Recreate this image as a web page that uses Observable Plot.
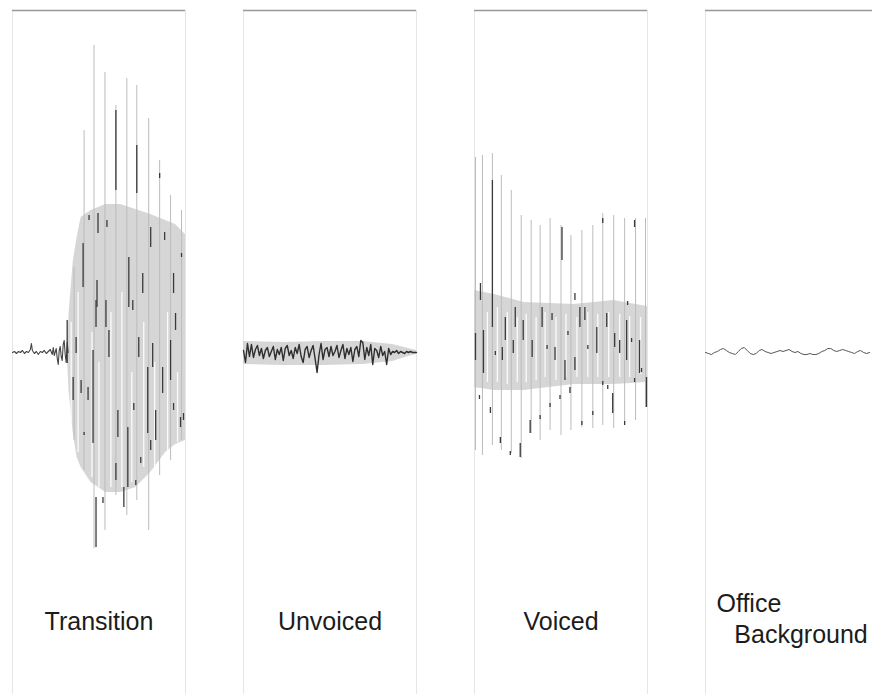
<!DOCTYPE html>
<html>
<head>
<meta charset="utf-8">
<script src="https://cdn.jsdelivr.net/npm/d3@7"></script>
<script src="https://cdn.jsdelivr.net/npm/@observablehq/plot@0.6"></script>
<style>
  html, body { margin: 0; padding: 0; background: #fff; overflow: hidden; }
</style>
</head>
<body>
<div id="chart"></div>
<script>
// Four speech-signal excerpts, each drawn in its own panel.
// Time runs 0..174 within a panel; amplitude is symmetric about zero.
const panels = ["Transition", "Unvoiced", "Voiced", "Office"];

// ---- Transition ----------------------------------------------------------
// quiet lead-in before the burst: [t, amplitude]
const transitionLead = [
  [0,0],[2,1],[4,-1],[6,1],[8,0],[10,2],[12,-1],[14,1],[16,0],[18,3],[19,9],[20,2],
  [22,-1],[24,1],[26,-2],[28,1],[30,0],[32,2],[34,-1],[36,1],[38,3],[40,-2],[41,5],
  [42,-3],[44,4],[45,-6],[46,-12],[47,2],[48,6],[49,-4],[50,-8],[51,8],[52,12],
  [53,-2],[54,-10],[55,10],[56,0]
];
// dense body of the burst: [t, upper, lower]
const transitionBody = [
  [55,0,0],[57,40,-40],[61,90,-80],[65,115,-105],[69,135,-115],[79,142,-130],
  [94,148,-140],[109,148,-140],[124,143,-135],[139,138,-120],[154,132,-100],
  [164,128,-92],[174,118,-88]
];
// pitch-period peaks: [t, max, min]
const transitionPeaks = [
  [62,85,-88],[72,222,-118],[82,307,-196],[93,280,-178],[104,247,-143],[115,274,-163],
  [125,267,-148],[137,234,-178],[148,192,-123],[159,157,-108],[170,142,-88]
];
// quiet gaps between peaks: [t, from, to]
const transitionGaps = [
  [59,30,-70],[66,60,-100],[80,20,-125],[87,-10,-135],[99,40,-135],[110,60,-135],
  [120,-20,-130],[132,30,-115],[143,-10,-115],[156,40,-98],[166,-20,-90]
];
// strongest excursions of the trace: [t, from, to]
const transitionStrokes = [
  [104,242,162],[125,207,159],[148,179,174],[77,137,132],[86,139,119],[95,132,125],
  [71,109,65],[139,125,105],[153,120,112],[170,99,95],[117,95,45],[85,72,45],
  [162,79,59],[131,79,59],[55,32,-11],[64,15,-1],[61,-25,-48],[69,-28,-41],
  [76,-35,-48],[72,-80,-83],[81,2,-91],[84,52,25],[94,52,25],[97,22,-5],
  [106,-58,-85],[116,-75,-135],[112,-135,-155],[91,-145,-151],[122,-51,-58],
  [124,-128,-133],[121,52,42],[127,15,-5],[136,-15,-81],[141,9,-15],[144,-58,-88],
  [151,-15,-41],[159,12,-28],[164,39,22],[162,-51,-58],[169,-65,-75],[172,-61,-68],
  [84,-145,-195],[104,-111,-128],[129,-105,-111],[139,-88,-98]
];

// ---- Unvoiced ------------------------------------------------------------
// fricative noise, one sample every 2 time units
const unvoicedStep = 2;
const unvoicedSamples = [
  2,-10,9,-4,8,-5,3,7,-3,4,-6,2,5,-4,1,6,-7,3,-2,5,-8,4,7,-3,2,-6,5,-1,8,-4,
  -10,3,6,-5,2,7,-6,-20,-2,9,-7,3,5,-4,6,-3,1,7,-5,2,8,-6,4,-2,5,-9,3,6,-4,12,
  10,-7,5,-3,8,-12,4,2,-5,6,-3,1,-12,4,-2,1,0,2,-1,1,0,-1,1,0,1,0,0,0
];
const unvoicedBody = [
  [0,11,-12],[40,10,-13],[80,11,-13],[120,11,-12],[150,8,-9],[166,4,-4],[174,2,-2]
];

// ---- Voiced --------------------------------------------------------------
const voicedBody = [
  [0,62,-35],[20,58,-38],[50,50,-38],[100,48,-32],[140,52,-32],[174,46,-30]
];
const voicedPeaks = [
  [1,195,-98],[8,197,-103],[18,199,-93],[27,177,-98],[37,162,-101],[47,137,-106],
  [57,132,-81],[66,127,-88],[76,134,-78],[87,127,-83],[97,117,-78],[108,122,-75],
  [119,127,-76],[129,139,-73],[140,137,-76],[151,134,-73],[162,134,-68],[172,134,-55]
];
const voicedGaps = [
  [13,40,-30],[23,45,-30],[33,40,-32],[43,35,-30],[52,38,-30],[62,35,-28],[71,40,-25],
  [82,35,-28],[92,38,-25],[103,35,-25],[114,40,-25],[124,38,-25],[135,40,-25],
  [146,38,-25],[156,36,-25],[167,35,-22]
];
const voicedStrokes = [
  [1,19,-8],[6,69,52],[9,22,-21],[5,-43,-47],[18,172,25],[21,1,-3],[28,5,-8],
  [31,35,12],[26,-85,-91],[36,-99,-103],[16,-55,-61],[41,45,25],[39,12,-1],
  [49,32,12],[46,-91,-105],[56,-68,-81],[58,12,-5],[68,45,25],[66,-63,-67],
  [73,7,3],[78,39,32],[76,-51,-55],[81,5,-8],[88,125,92],[86,-43,-47],[91,-8,-28],
  [94,21,17],[96,-35,-41],[101,59,52],[101,-5,-18],[106,45,25],[108,-69,-73],
  [111,45,32],[114,7,3],[119,-59,-63],[123,25,-1],[129,134,129],[129,-29,-33],
  [133,39,25],[134,-33,-37],[139,-41,-61],[141,19,5],[146,12,-1],[151,-69,-73],
  [153,32,-8],[154,51,47],[158,14,10],[161,132,125],[161,-26,-30],[166,12,-21],
  [168,-16,-20],[173,-25,-55]
];

// ---- Office background ---------------------------------------------------
const officeStep = 3;
const officeSamples = [
  0,-1,-2,0,1,3,4,2,0,-1,-2,1,4,5,2,-1,-2,-1,2,3,1,0,-1,0,1,2,1,2,3,1,0,1,
  -1,-2,-2,-1,-2,-2,-1,1,2,4,4,2,1,2,3,2,1,0,-1,1,2,0,-1,0
];

// ---- Labels --------------------------------------------------------------
const labelTexts = ["Transition", "Unvoiced", "Voiced"];
const officeLines = ["Office", "Background"];

// ---- Tables for the marks -----------------------------------------------
const bodies = [
  ...transitionBody.map(([t, hi, lo]) => ({panel: "Transition", t, hi, lo})),
  ...unvoicedBody.map(([t, hi, lo]) => ({panel: "Unvoiced", t, hi, lo})),
  ...voicedBody.map(([t, hi, lo]) => ({panel: "Voiced", t, hi, lo}))
];
const peaks = [
  ...transitionPeaks.map(([t, hi, lo]) => ({panel: "Transition", t, hi, lo})),
  ...voicedPeaks.map(([t, hi, lo]) => ({panel: "Voiced", t, hi, lo}))
];
const gaps = [
  ...transitionGaps.map(([t, hi, lo]) => ({panel: "Transition", t, hi, lo})),
  ...voicedGaps.map(([t, hi, lo]) => ({panel: "Voiced", t, hi, lo}))
];
const strokes = [
  ...transitionStrokes.map(([t, a, b]) => ({panel: "Transition", t, a, b})),
  ...voicedStrokes.map(([t, a, b]) => ({panel: "Voiced", t, a, b}))
];
const lead = transitionLead.map(([t, v]) => ({panel: "Transition", t, v}));
const noise = unvoicedSamples.map((v, i) => ({panel: "Unvoiced", t: i * unvoicedStep, v}));
const office = officeSamples.map((v, i) => ({panel: "Office", t: i * officeStep, v}));
const edges = panels.flatMap(panel => [{panel, t: 0}, {panel, t: 174}]);
const labels = labelTexts.map((text, i) => ({panel: panels[i], text}));
const officeLabels = [
  {panel: "Office", text: officeLines[0], t: 11, v: -251},
  {panel: "Office", text: officeLines[1], t: 29, v: -282}
];

const chart = Plot.plot({
  width: 872,
  height: 694,
  marginTop: 10,
  marginBottom: 0,
  marginLeft: 11,
  marginRight: -8,
  fx: {domain: panels, axis: null, label: null, paddingInner: 0.249, paddingOuter: 0},
  x: {domain: [0, 174], axis: null},
  y: {domain: [-342, 342], axis: null},
  style: {fontFamily: "'Liberation Sans', Arial, sans-serif", background: "#fff", overflow: "hidden"},
  marks: [
    // faint panel sides
    Plot.ruleX(edges, {fx: "panel", x: "t", y1: -342, y2: 342, stroke: "#e6e6e6", strokeWidth: 1}),
    // panel top edge
    Plot.ruleY(panels.map(panel => ({panel})), {fx: "panel", y: 342, x1: 0, x2: 174, stroke: "#999", strokeWidth: 1.5}),
    // dense body of each waveform
    Plot.areaY(bodies, {fx: "panel", x: "t", y1: "lo", y2: "hi", z: "panel", fill: "#d2d2d2", fillOpacity: 0.9}),
    // quiet gaps between peaks
    Plot.ruleX(gaps, {fx: "panel", x: "t", y1: "lo", y2: "hi", stroke: "#fff", strokeWidth: 1.3, strokeOpacity: 0.9}),
    // pitch-period peaks
    Plot.ruleX(peaks, {fx: "panel", x: "t", y1: "lo", y2: "hi", stroke: "#bcbcbc", strokeWidth: 1}),
    // low-amplitude traces
    Plot.line(lead, {fx: "panel", x: "t", y: "v", stroke: "#444", strokeWidth: 1.1}),
    Plot.line(noise, {fx: "panel", x: "t", y: "v", stroke: "#2e2e2e", strokeWidth: 1.4}),
    Plot.line(office, {fx: "panel", x: "t", y: "v", stroke: "#555", strokeWidth: 1}),
    // strongest excursions
    Plot.ruleX(strokes, {fx: "panel", x: "t", y1: "b", y2: "a", stroke: "#3a3a3a", strokeWidth: 1.3}),
    // panel names
    Plot.text(labels, {fx: "panel", x: 87, y: -269, text: "text", fontSize: 25, fill: "#1c1c1c"}),
    Plot.text(officeLabels, {fx: "panel", x: "t", y: "v", text: "text", textAnchor: "start", fontSize: 25, fill: "#1c1c1c"})
  ]
});
document.getElementById("chart").appendChild(chart);
</script>
</body>
</html>
